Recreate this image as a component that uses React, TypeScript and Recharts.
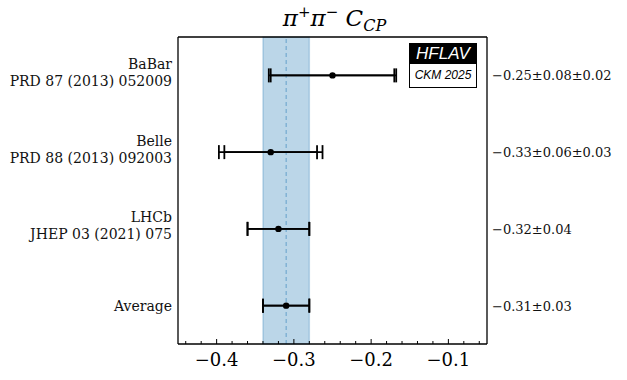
import React from "react";
import {
  ScatterChart,
  Scatter,
  XAxis,
  YAxis,
  ErrorBar,
  ReferenceArea,
  ReferenceLine,
} from "recharts";

// ---- data ----
const experiments = ["BaBar", "Belle", "LHCb", "Average"];
const references = ["PRD 87 (2013) 052009", "PRD 88 (2013) 092003", "JHEP 03 (2021) 075", ""];
const centralValues = [-0.25, -0.33, -0.32, -0.31];
const statErrors = [0.08, 0.06, 0.04, 0.03];
const systErrors = [0.02, 0.03, 0, 0];
const resultLabels = ["−0.25±0.08±0.02", "−0.33±0.06±0.03", "−0.32±0.04", "−0.31±0.03"];
const rowPositions = [3.5, 2.5, 1.5, 0.5];
const averageValue = -0.31;
const averageError = 0.03;
const xTicks = [
  -0.44, -0.42, -0.4, -0.38, -0.36, -0.34, -0.32, -0.3, -0.28, -0.26, -0.24, -0.22, -0.2,
  -0.18, -0.16, -0.14, -0.12, -0.1, -0.08, -0.06,
];
const majorTicks = [-0.4, -0.3, -0.2, -0.1];
const majorTickLabels = ["−0.4", "−0.3", "−0.2", "−0.1"];
const xDomain: [number, number] = [-0.45, -0.05];
const yDomain: [number, number] = [0, 4];

const data = experiments.map((name, i) => ({
  name,
  x: centralValues[i],
  y: rowPositions[i],
  stat: statErrors[i],
  total: Math.sqrt(statErrors[i] * statErrors[i] + systErrors[i] * systErrors[i]),
}));

const SERIF = "'DejaVu Serif', serif";

const BottomTick = (props: any) => {
  const { x, y, payload } = props;
  const v = payload.value;
  const mi = majorTicks.findIndex((m) => Math.abs(m - v) < 1e-9);
  const major = mi >= 0;
  return (
    <g>
      <line x1={x} x2={x} y1={y} y2={y - (major ? 5 : 3)} stroke="#000" strokeWidth={1} />
      {major && (
        <text x={x} y={y + 22} textAnchor="middle" fontSize={18} fontFamily={SERIF} fill="#000">
          {majorTickLabels[mi]}
        </text>
      )}
    </g>
  );
};

const LeftTick = (props: any) => {
  const { x, y, payload } = props;
  const i = rowPositions.indexOf(payload.value);
  if (i < 0) return null;
  const ref = references[i];
  if (ref) {
    return (
      <g>
        <text x={x - 6} y={y - 6.5} textAnchor="end" fontSize={14} fontFamily={SERIF} fill="#111">
          {experiments[i]}
        </text>
        <text x={x - 6} y={y + 10.5} textAnchor="end" fontSize={14} fontFamily={SERIF} fill="#111">
          {ref}
        </text>
      </g>
    );
  }
  return (
    <text x={x - 6} y={y + 5} textAnchor="end" fontSize={14} fontFamily={SERIF} fill="#111">
      {experiments[i]}
    </text>
  );
};

const RightTick = (props: any) => {
  const { x, y, payload } = props;
  const i = rowPositions.indexOf(payload.value);
  if (i < 0) return null;
  return (
    <text x={x + 5} y={y + 5} textAnchor="start" fontSize={13} fontFamily={SERIF} fill="#111">
      {resultLabels[i]}
    </text>
  );
};

const Dot = (props: any) => <circle cx={props.cx} cy={props.cy} r={3.2} fill="#000" />;

export default function App() {
  return (
    <div style={{ position: "absolute", left: 0, top: 0, width: 627, height: 380, background: "#fff" }}>
      <ScatterChart width={627} height={380} margin={{ top: 37, right: 0, bottom: 0, left: 0 }}>
        <XAxis
          xAxisId="bottom"
          type="number"
          dataKey="x"
          domain={xDomain}
          allowDataOverflow
          ticks={xTicks}
          interval={0}
          height={36}
          tickSize={0}
          tickMargin={0}
          tickLine={false}
          axisLine={{ stroke: "#000", strokeWidth: 1.3 }}
          tick={<BottomTick />}
        />
        <YAxis
          yAxisId="left"
          type="number"
          dataKey="y"
          domain={yDomain}
          allowDataOverflow
          ticks={rowPositions}
          interval={0}
          width={178}
          tickSize={0}
          tickMargin={0}
          tickLine={false}
          axisLine={{ stroke: "#000", strokeWidth: 1.3 }}
          tick={<LeftTick />}
        />
        <YAxis
          yAxisId="right"
          orientation="right"
          type="number"
          domain={yDomain}
          allowDataOverflow
          ticks={rowPositions}
          interval={0}
          width={140}
          tickSize={0}
          tickMargin={0}
          tickLine={false}
          axisLine={{ stroke: "#000", strokeWidth: 1.3 }}
          tick={<RightTick />}
        />
        <ReferenceArea
          xAxisId="bottom"
          yAxisId="left"
          x1={averageValue - averageError}
          x2={averageValue + averageError}
          fill="#1f77b4"
          fillOpacity={0.3}
          stroke="#1f77b4"
          strokeOpacity={0.25}
          strokeWidth={1.5}
        />
        <ReferenceLine
          xAxisId="bottom"
          yAxisId="left"
          x={averageValue}
          stroke="#1f77b4"
          strokeOpacity={0.55}
          strokeDasharray="4 3"
          strokeWidth={1}
        />
        <ReferenceLine xAxisId="bottom" yAxisId="left" y={yDomain[1]} stroke="#000" strokeWidth={1.3} />
        <Scatter
          xAxisId="bottom"
          yAxisId="left"
          data={data}
          dataKey="y"
          isAnimationActive={false}
          shape={<Dot />}
        >
          <ErrorBar dataKey="total" direction="x" width={7} stroke="#000" strokeWidth={1.8} isAnimationActive={false} />
          <ErrorBar dataKey="stat" direction="x" width={7} stroke="#000" strokeWidth={1.8} isAnimationActive={false} />
        </Scatter>
      </ScatterChart>
      <div
        style={{
          position: "absolute",
          left: 180,
          width: 309,
          top: 5,
          textAlign: "center",
          fontFamily: SERIF,
          fontSize: 23,
          lineHeight: "26px",
          color: "#000",
          whiteSpace: "nowrap",
        }}
      >
        <span style={{ fontStyle: "italic" }}>π</span>
        <span style={{ fontSize: 15, position: "relative", top: -9 }}>+</span>
        <span style={{ fontStyle: "italic" }}>π</span>
        <span style={{ fontSize: 15, position: "relative", top: -9 }}>−</span>
        <span>&nbsp;</span>
        <span style={{ fontStyle: "italic" }}>C</span>
        <span style={{ fontSize: 16, fontStyle: "italic", position: "relative", top: 5 }}>CP</span>
      </div>
      <div
        style={{
          position: "absolute",
          left: 409,
          top: 43,
          width: 68,
          height: 20,
          background: "#000",
          color: "#fff",
          fontFamily: "'Liberation Sans', sans-serif",
          fontStyle: "italic",
          fontSize: 17,
          lineHeight: "21px",
          textAlign: "center",
        }}
      >
        HFLAV
      </div>
      <div
        style={{
          position: "absolute",
          left: 409,
          top: 63,
          width: 66,
          height: 23,
          border: "1px solid #000",
          background: "#fff",
          color: "#000",
          fontFamily: "'Liberation Sans', sans-serif",
          fontStyle: "italic",
          fontSize: 12,
          lineHeight: "23px",
          textAlign: "center",
        }}
      >
        CKM 2025
      </div>
    </div>
  );
}
